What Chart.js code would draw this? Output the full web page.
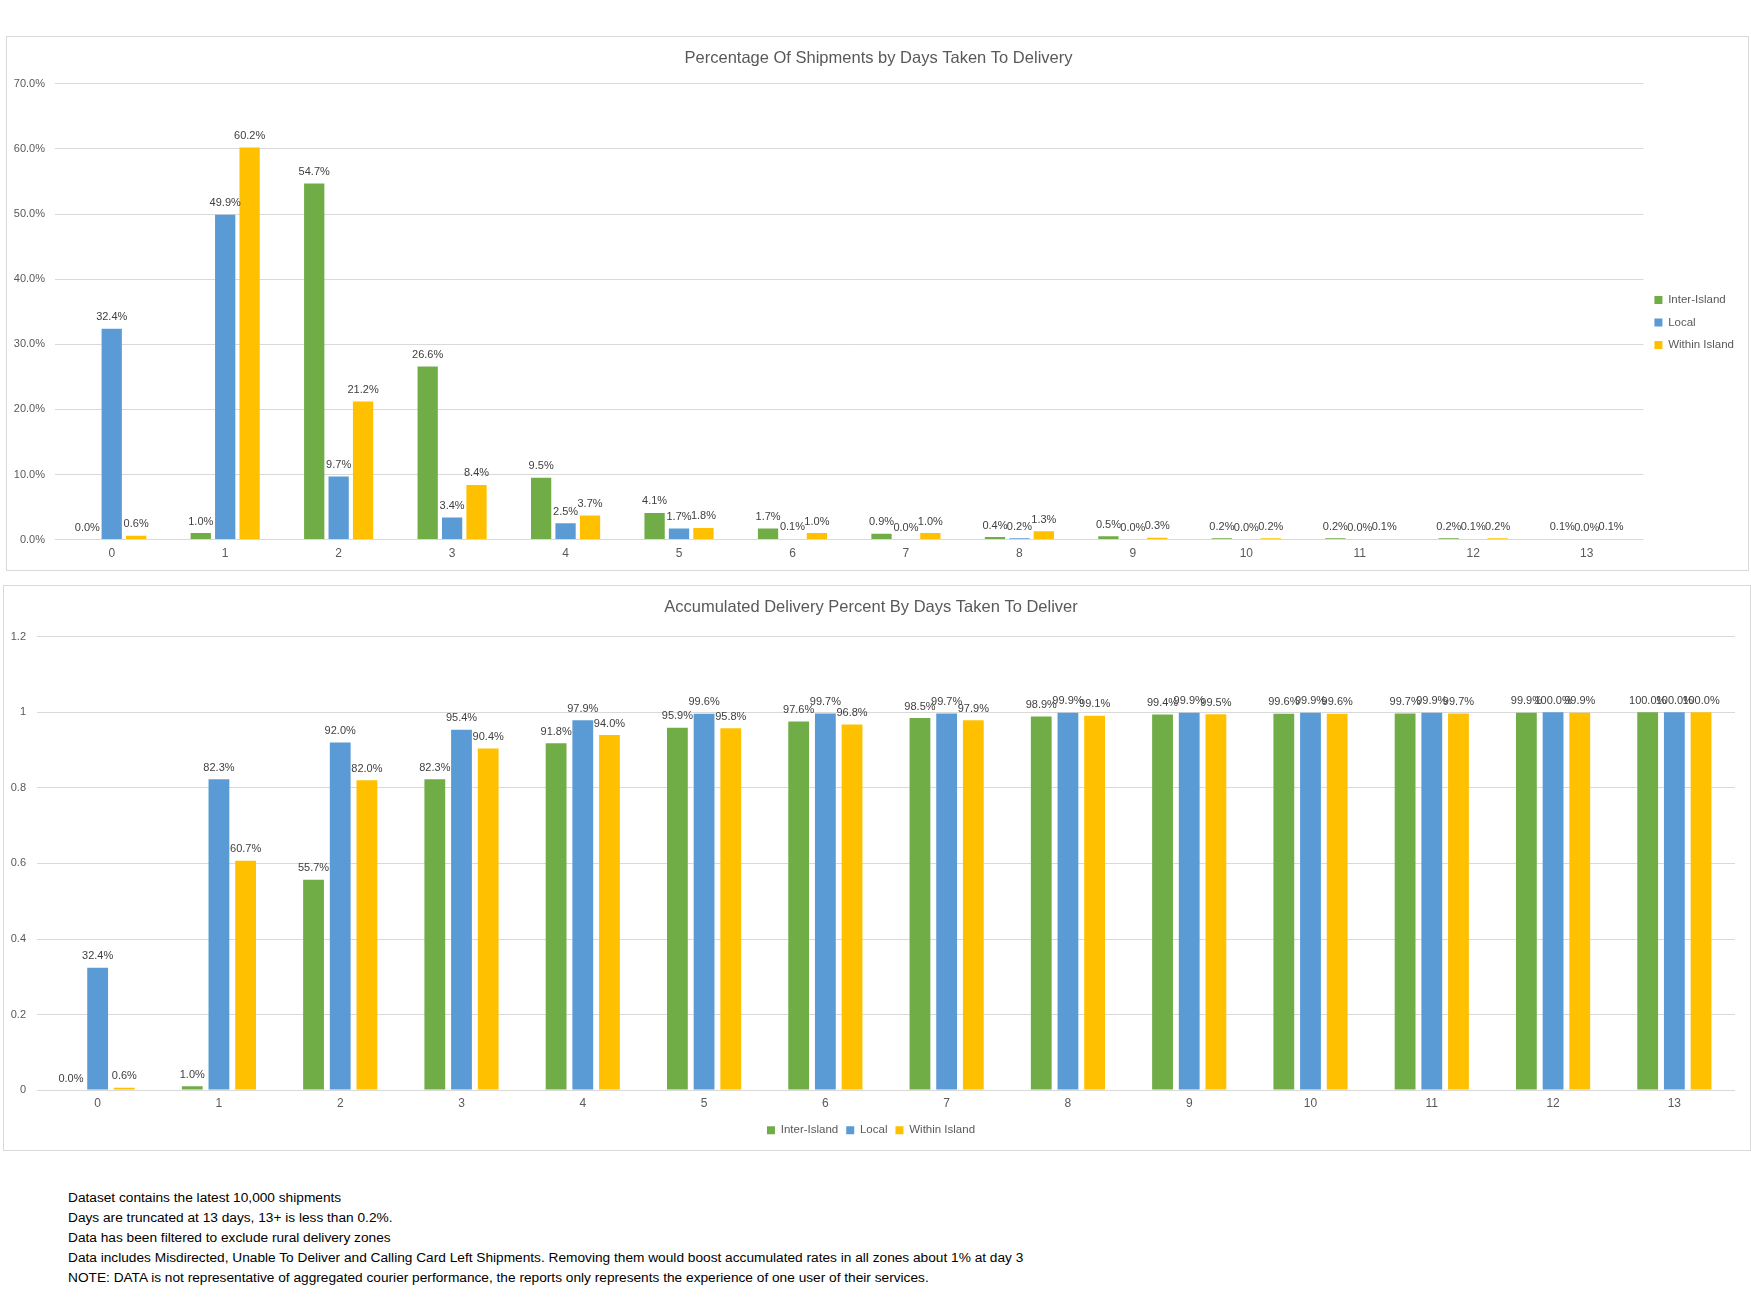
<!DOCTYPE html>
<html>
<head>
<meta charset="utf-8">
<script src="https://cdn.jsdelivr.net/npm/chart.js@4.4.1/dist/chart.umd.min.js"></script>
<style>
    body { margin: 0; width: 1751px; height: 1298px; background: #fff; position: relative; overflow: hidden;
           font-family: "Liberation Sans", sans-serif; }
    .box { position: absolute; border: 1px solid #D9D9D9; box-sizing: border-box; }
    #box1 { left: 6px; top: 36px; width: 1743px; height: 535px; }
    #box2 { left: 3px; top: 585px; width: 1748px; height: 566px; }
    .box div { position: absolute; left: 0; top: 0; right: 0; bottom: 0; }
    .notes { position: absolute; left: 68px; top: 1188px; font-size: 13.7px; line-height: 20px; color: #000; }
</style>
</head>
<body>
<div class="box" id="box1"><div><canvas id="daysChart"></canvas></div></div>
<div class="box" id="box2"><div><canvas id="accChart"></canvas></div></div>
<div class="notes">
    Dataset contains the latest 10,000 shipments<br>
    Days are truncated at 13 days, 13+ is less than 0.2%.<br>
    Data has been filtered to exclude rural delivery zones<br>
    Data includes Misdirected, Unable To Deliver and Calling Card Left Shipments. Removing them would boost accumulated rates in all zones about 1% at day 3<br>
    NOTE: DATA is not representative of aggregated courier performance, the reports only represents the experience of one user of their services.
</div>
<script>
// Days taken to deliver
const days = ['0', '1', '2', '3', '4', '5', '6', '7', '8', '9', '10', '11', '12', '13'];
const seriesNames = ['Inter-Island', 'Local', 'Within Island'];
const seriesColors = ['#70AD47', '#5B9BD5', '#FFC000'];

// Percentage of shipments per day (%)
const interIslandPct = [0.0, 1.0, 54.7, 26.6, 9.5, 4.1, 1.7, 0.9, 0.4, 0.5, 0.2, 0.2, 0.2, 0.1];
const localPct       = [32.4, 49.9, 9.7, 3.4, 2.5, 1.7, 0.1, 0.0, 0.2, 0.0, 0.0, 0.0, 0.1, 0.0];
const withinPct      = [0.6, 60.2, 21.2, 8.4, 3.7, 1.8, 1.0, 1.0, 1.3, 0.3, 0.2, 0.1, 0.2, 0.1];

// Accumulated delivery (fraction)
const interIslandAcc = [0.000, 0.010, 0.557, 0.823, 0.918, 0.959, 0.976, 0.985, 0.989, 0.994, 0.996, 0.997, 0.999, 1.000];
const localAcc       = [0.324, 0.823, 0.920, 0.954, 0.979, 0.996, 0.997, 0.997, 0.999, 0.999, 0.999, 0.999, 1.000, 1.000];
const withinAcc      = [0.006, 0.607, 0.820, 0.904, 0.940, 0.958, 0.968, 0.979, 0.991, 0.995, 0.996, 0.997, 0.999, 1.000];

const FONT = '"Liberation Sans", sans-serif';
const TEXT = '#595959';

// Draws the value label over each bar
const barLabels = {
    id: 'barLabels',
    afterDatasetsDraw(chart, args, opts) {
        const ctx = chart.ctx;
        ctx.save();
        ctx.font = '11px ' + FONT;
        ctx.fillStyle = '#404040';
        ctx.textAlign = 'center';
        ctx.textBaseline = 'bottom';
        chart.data.datasets.forEach((ds, i) => {
            const meta = chart.getDatasetMeta(i);
            meta.data.forEach((bar, j) => {
                ctx.fillText(opts.format(ds.data[j]), bar.x, bar.y - 6);
            });
        });
        ctx.restore();
    }
};

function makeDatasets(values, barPct, catPct) {
    return values.map((v, i) => ({
        label: seriesNames[i],
        data: v,
        backgroundColor: seriesColors[i],
        borderWidth: 0,
        barPercentage: barPct,
        categoryPercentage: catPct
    }));
}

function makeChart(id, cfg) {
    const ctx = document.getElementById(id).getContext('2d');
    return new Chart(ctx, {
        type: 'bar',
        data: { labels: days, datasets: cfg.datasets },
        plugins: [barLabels],
        options: {
            responsive: true,
            maintainAspectRatio: false,
            animation: false,
            layout: { padding: cfg.padding },
            scales: {
                x: {
                    grid: { display: false, drawTicks: false },
                    border: { display: false },
                    ticks: { color: TEXT, font: { family: FONT, size: 12 }, padding: cfg.xPad }
                },
                y: {
                    min: 0,
                    max: cfg.yMax,
                    ticks: { stepSize: cfg.yStep, color: TEXT, font: { family: FONT, size: 11 },
                             padding: cfg.tickPad, callback: cfg.tickFormat },
                    grid: { color: '#D9D9D9', drawTicks: false },
                    border: { display: false },
                    afterFit: scale => { scale.width = cfg.yWidth; }
                }
            },
            plugins: {
                title: {
                    display: true,
                    text: cfg.title,
                    color: TEXT,
                    font: { family: FONT, size: 16.5, weight: 'normal' },
                    padding: cfg.titlePad
                },
                legend: {
                    position: cfg.legendPos,
                    // blank legend title pushes the side legend down a little
                    title: cfg.legendShift,
                    labels: { color: TEXT, font: { family: FONT, size: 11.5 }, boxWidth: 8, boxHeight: 8,
                              padding: cfg.legendPad }
                },
                tooltip: { enabled: false },
                barLabels: { format: cfg.labelFormat }
            }
        }
    });
}

makeChart('daysChart', {
    datasets: makeDatasets([interIslandPct, localPct, withinPct], 0.83, 0.646),
    yMax: 70, yStep: 10, yWidth: 42, tickPad: 10, xPad: 7,
    tickFormat: v => v.toFixed(1) + '%',
    labelFormat: v => v.toFixed(1) + '%',
    title: 'Percentage Of Shipments by Days Taken To Delivery',
    titlePad: { top: 12, bottom: 15 },
    legendPos: 'right',
    legendPad: 11,
    legendShift: { display: true, text: ' ', padding: 14, font: { size: 10 } },
    padding: { left: 6, right: 4, top: 0, bottom: 2 }
});

makeChart('accChart', {
    datasets: makeDatasets([interIslandAcc, localAcc, withinAcc], 0.78, 0.66),
    yMax: 1.2, yStep: 0.2, yWidth: 30, tickPad: 11, xPad: 6,
    tickFormat: v => String(+v.toFixed(1)),
    labelFormat: v => (v * 100).toFixed(1) + '%',
    title: 'Accumulated Delivery Percent By Days Taken To Deliver',
    titlePad: { top: 12, bottom: 19 },
    legendPos: 'bottom',
    legendPad: 8,
    legendShift: { display: false },
    padding: { left: 3, right: 15, top: 0, bottom: 4 }
});
</script>
</body>
</html>
